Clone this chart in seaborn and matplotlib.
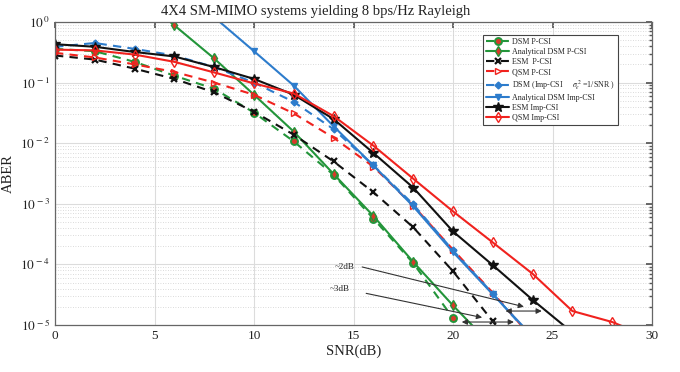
import numpy as np
import pandas as pd
import matplotlib
matplotlib.use("Agg")
import matplotlib.pyplot as plt
import seaborn as sns
from matplotlib.ticker import FuncFormatter, LogLocator, NullFormatter

sns.set_theme(style="white")
plt.rcParams['font.family'] = ['Liberation Serif', 'DejaVu Serif']
plt.rcParams['mathtext.fontset'] = 'stix'

snr = [0, 2, 4, 6, 8, 10, 12, 14, 16, 18, 20, 22, 24, 26, 28, 30]

dsm_pcsi = [0.36, 0.33, 0.22, 0.13, 0.079, 0.032, 0.0107, 0.0030, 5.7e-4, 1.05e-4, 1.3e-5, 1.5e-6]
snr_dsm_pcsi = snr[:len(dsm_pcsi)]

ana_dsm_pcsi = [3.0, 0.88, 0.25, 0.063, 0.0155, 0.0031, 6.3e-4, 1.1e-4, 2.1e-5, 4.4e-6]
snr_ana_dsm_pcsi = snr[2:2 + len(ana_dsm_pcsi)]

esm_pcsi = [0.28, 0.24, 0.17, 0.115, 0.069, 0.033, 0.0138, 0.005, 1.55e-3, 4.1e-4, 7.7e-5, 1.15e-5, 1.5e-6]
snr_esm_pcsi = snr[:len(esm_pcsi)]

qsm_pcsi = [0.31, 0.26, 0.20, 0.15, 0.10, 0.063, 0.031, 0.0123, 4.1e-3, 9.3e-4, 1.75e-4, 3.4e-5, 6.0e-6]
snr_qsm_pcsi = snr[:len(qsm_pcsi)]

dsm_icsi = [0.39, 0.45, 0.36, 0.28, 0.18, 0.10, 0.048, 0.017, 4.3e-3, 9.8e-4, 1.7e-4, 3.3e-5, 6.0e-6]
snr_dsm_icsi = snr[:len(dsm_icsi)]

ana_dsm_icsi = [1.2, 0.33, 0.089, 0.019, 4.3e-3, 9.1e-4, 1.6e-4, 3.2e-5, 6.5e-6]
snr_ana_dsm_icsi = snr[4:4 + len(ana_dsm_icsi)]

esm_icsi = [0.43, 0.39, 0.32, 0.27, 0.18, 0.115, 0.063, 0.025, 6.9e-3, 1.85e-3, 3.5e-4, 9.7e-5, 2.6e-5, 7.5e-6]
snr_esm_icsi = snr[:len(esm_icsi)]

qsm_icsi = [0.35, 0.34, 0.29, 0.22, 0.147, 0.097, 0.066, 0.028, 9.1e-3, 2.6e-3, 7.5e-4, 2.3e-4, 7.0e-5, 1.7e-5, 1.12e-5, 6.0e-6]
snr_qsm_icsi = snr[:len(qsm_icsi)]

labels = ["DSM P-CSI", "Analytical DSM P-CSI", "ESM  P-CSI", "QSM P-CSI",
          "DSM (Imp-CSI     $\\sigma_e^{\\,2}$ =1/SNR )", "Analytical DSM Imp-CSI",
          "ESM Imp-CSI", "QSM Imp-CSI"]

GREEN = "#23953a"
BLUE = "#2d7ccc"
RED = "#f0221e"
BLACK = "#111111"
DOT = "#d83a2a"

series = [
    (snr_dsm_pcsi, dsm_pcsi, dict(color=GREEN, linestyle=(0, (4, 3)), marker='o', markersize=5,
                                   markerfacecolor=DOT, markeredgecolor=GREEN, markeredgewidth=1.4)),
    (snr_ana_dsm_pcsi, ana_dsm_pcsi, dict(color=GREEN, linestyle='-', marker='d', markersize=5,
                                           markerfacecolor=DOT, markeredgecolor=GREEN, markeredgewidth=1.0)),
    (snr_esm_pcsi, esm_pcsi, dict(color=BLACK, linestyle=(0, (4, 3)), marker='x', markersize=5,
                                   markerfacecolor=BLACK, markeredgecolor=BLACK, markeredgewidth=1.6)),
    (snr_qsm_pcsi, qsm_pcsi, dict(color=RED, linestyle=(0, (4, 3)), marker='>', markersize=5,
                                   markerfacecolor='none', markeredgecolor=RED, markeredgewidth=1.0)),
    (snr_dsm_icsi, dsm_icsi, dict(color=BLUE, linestyle=(0, (4, 3)), marker='D', markersize=3.5,
                                   markerfacecolor=BLUE, markeredgecolor=BLUE, markeredgewidth=1.0)),
    (snr_ana_dsm_icsi, ana_dsm_icsi, dict(color=BLUE, linestyle='-', marker='v', markersize=5,
                                           markerfacecolor=BLUE, markeredgecolor=BLUE, markeredgewidth=1.0)),
    (snr_esm_icsi, esm_icsi, dict(color=BLACK, linestyle='-', marker='*', markersize=7,
                                   markerfacecolor=BLACK, markeredgecolor=BLACK, markeredgewidth=1.0)),
    (snr_qsm_icsi, qsm_icsi, dict(color=RED, linestyle='-', marker='d', markersize=5.5,
                                   markerfacecolor='none', markeredgecolor=RED, markeredgewidth=1.0)),
]

fig = plt.figure(figsize=(6.8, 3.72), dpi=100)
ax = fig.add_axes([55 / 680, 1 - 325 / 372, (652 - 55) / 680, (325 - 22) / 372])

for (xs, ys, st), lab in zip(series, labels):
    df = pd.DataFrame({"SNR": xs, "ABER": ys})
    sns.lineplot(data=df, x="SNR", y="ABER", ax=ax, label=lab, linewidth=1.5, sort=False, **st)

ax.set_yscale('log')
ax.set_xlim(0, 30)
ax.set_ylim(1e-5, 1)
ax.set_xticks([0, 5, 10, 15, 20, 25, 30])
ax.yaxis.set_major_locator(LogLocator(base=10, numticks=10))
ax.yaxis.set_minor_locator(LogLocator(base=10, subs=np.arange(2, 10), numticks=50))
ax.yaxis.set_major_formatter(FuncFormatter(lambda v, p: "$10^{\\,%d}$" % int(round(np.log10(v)))))
ax.yaxis.set_minor_formatter(NullFormatter())

ax.grid(which='major', axis='both', color='#dcdcdc', linewidth=0.8, linestyle='-')
ax.grid(which='minor', axis='y', color='#cfcfcf', linewidth=0.6, linestyle=(0, (1, 2)))
ax.set_axisbelow(True)

ax.tick_params(which='both', direction='in', top=True, right=True, colors='#555555',
               labelcolor='#222222', labelsize=9.5)
ax.tick_params(which='major', length=4)
ax.tick_params(which='minor', length=2)
for s in ax.spines.values():
    s.set_color('#666666')
    s.set_linewidth(0.9)

ax.set_xlabel("SNR(dB)", fontsize=10.5, color='#222222', labelpad=2)
ax.set_ylabel("ABER", fontsize=10.5, color='#222222', labelpad=4)
fig.text(316 / 680, 1 - 11 / 372, "4X4 SM-MIMO systems yielding 8 bps/Hz Rayleigh",
         ha='center', va='center', fontsize=10.5, color='#222222')

# annotations
ax.text(14.55, 9.0e-5, "~2dB", fontsize=6.5, ha='center', va='center', color='#222222')
ax.text(14.3, 3.9e-5, "~3dB", fontsize=6.5, ha='center', va='center', color='#222222')
ax.annotate("", xy=(23.7, 1.95e-5), xytext=(15.3, 9.3e-5),
            arrowprops=dict(arrowstyle='-|>', color='#333333', lw=0.8, mutation_scale=8))
ax.annotate("", xy=(21.6, 1.3e-5), xytext=(15.5, 3.4e-5),
            arrowprops=dict(arrowstyle='-|>', color='#333333', lw=0.8, mutation_scale=8))
ax.annotate("", xy=(24.6, 1.7e-5), xytext=(22.5, 1.7e-5),
            arrowprops=dict(arrowstyle='<|-|>', color='#333333', lw=0.8, mutation_scale=8))
ax.annotate("", xy=(23.2, 1.12e-5), xytext=(20.3, 1.12e-5),
            arrowprops=dict(arrowstyle='<|-|>', color='#333333', lw=0.8, mutation_scale=8))

leg = ax.legend(loc='upper left', bbox_to_anchor=(0.717, 0.957), fontsize=5.8, frameon=True,
                fancybox=False, edgecolor='#444444', framealpha=1, labelspacing=0.25,
                handlelength=2.8, handletextpad=0.4, borderpad=0.4, borderaxespad=0)
leg.get_frame().set_linewidth(0.8)

fig.savefig("out.png", dpi=100)
